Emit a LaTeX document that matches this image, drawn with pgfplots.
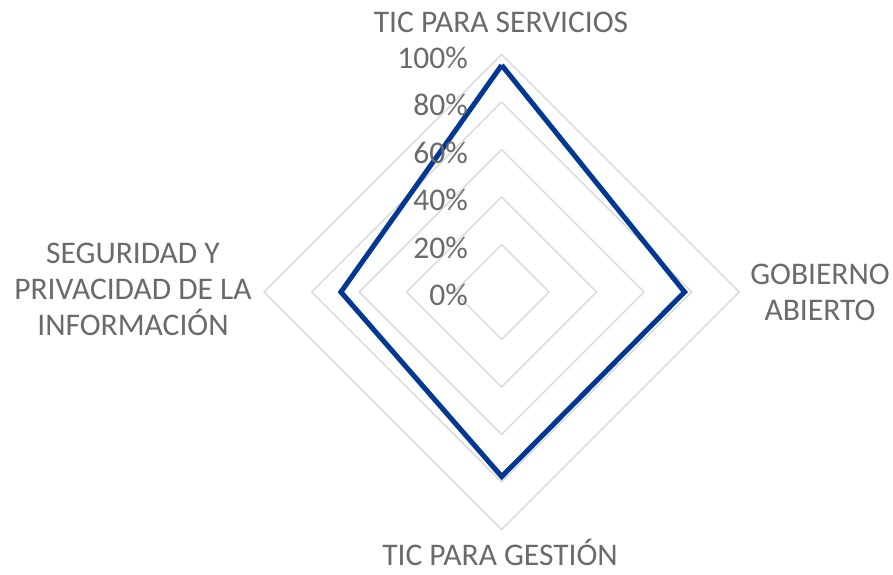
\documentclass[border=0pt]{standalone}
\usepackage{pgfplots}
\pgfplotsset{compat=1.18}
\usepgfplotslibrary{polar}
\usepackage{fontspec}
\setmainfont{Carlito}
\definecolor{serie}{HTML}{003893}
\definecolor{grida}{HTML}{D9D9D9}
\definecolor{txt}{HTML}{6A6A6A}
\begin{document}
\begin{tikzpicture}
\path[use as bounding box] (0,0) rectangle (893pt,574pt);
\begin{polaraxis}[
  at={(501.7pt,282pt)}, anchor=origin,
  scale only axis, width=475pt, height=475pt,
  xmin=0, xmax=360, ymin=0, ymax=100,
  hide axis, clip=false,
]
\foreach \r in {20,40,60,80,100}{
  \edef\tmp{\noexpand\addplot[grida, line width=1.4pt, line join=miter, no marks] coordinates {(90,\r) (0,\r) (270,\r) (180,\r) (90,\r)};}
  \tmp
}
\addplot[serie, line width=5pt, line join=miter, no marks] coordinates {
  (90,95.5) (0,77) (270,77.7) (180,67.7) (90,95.5)
};
\end{polaraxis}
\begin{scope}[every node/.style={text=txt, font=\fontsize{31.5}{36}\selectfont, inner sep=0pt}]
\node[anchor=east] at (468pt,{574pt-295pt}) {0\%};
\node[anchor=east] at (468pt,{574pt-247.5pt}) {20\%};
\node[anchor=east] at (468pt,{574pt-200pt}) {40\%};
\node[anchor=east] at (468pt,{574pt-152.5pt}) {60\%};
\node[anchor=east] at (468pt,{574pt-105pt}) {80\%};
\node[anchor=east] at (468pt,{574pt-57.5pt}) {100\%};
\node at (501pt,{574pt-22pt}) {TIC PARA SERVICIOS};
\node at (500pt,{574pt-552pt}) {TIC PARA GESTIÓN};
\node[align=center] at (820pt,{574pt-292pt}) {GOBIERNO\\ABIERTO};
\node[align=center] at (133pt,{574pt-289pt}) {SEGURIDAD Y\\PRIVACIDAD DE LA\\INFORMACIÓN};
\end{scope}
\end{tikzpicture}
\end{document}
